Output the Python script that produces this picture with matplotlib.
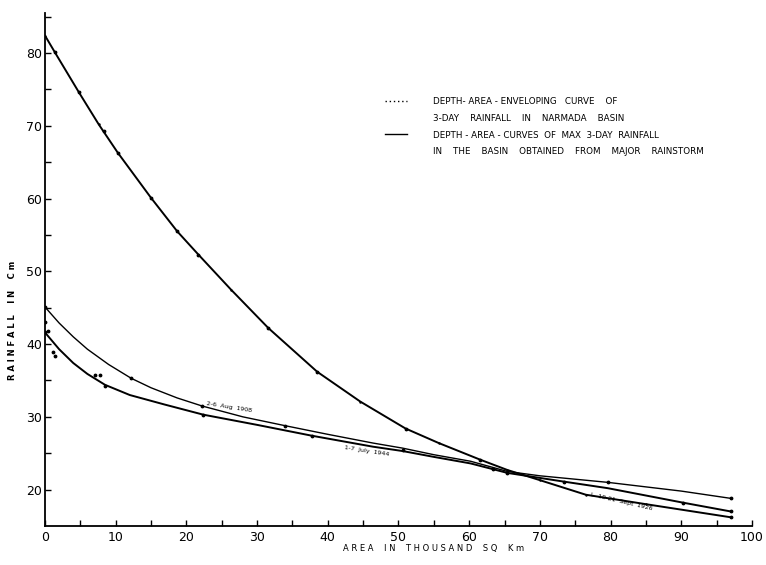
import matplotlib
matplotlib.use('Agg')
import matplotlib.pyplot as plt
from matplotlib.lines import Line2D

# curve readings (area in thousand sq km, rainfall in cm)
env_x = [0, 1.4, 4.8, 7.6, 10.3, 15.0, 18.7, 21.7, 26.3, 31.6, 38.5, 44.6, 51.0, 55.7, 61.6, 65.4, 70.0, 76.5, 85.0, 97.0]
env_y = [82.4, 80.1, 74.6, 70.2, 66.3, 60.1, 55.5, 52.3, 47.5, 42.2, 36.2, 32.1, 28.4, 26.4, 24.1, 22.7, 21.3, 19.3, 18.0, 16.2]

aug1908_x = [0, 2, 4, 6, 9, 12.2, 15, 18.7, 22.2, 28, 33.9, 40, 46.4, 50.6, 55, 60.2, 65.4, 70, 79.6, 90, 97]
aug1908_y = [45.1, 42.9, 41.0, 39.3, 37.2, 35.3, 34.0, 32.6, 31.5, 30.0, 28.8, 27.6, 26.4, 25.7, 24.8, 23.9, 22.5, 21.9, 21.0, 19.8, 18.8]

jul1944_x = [0, 2, 4, 6, 8.5, 12, 16.9, 22.4, 30, 37.8, 46.4, 50.6, 55, 60.2, 65.4, 73.4, 79.6, 90.3, 97]
jul1944_y = [41.6, 39.3, 37.4, 35.9, 34.4, 33.0, 31.7, 30.3, 28.9, 27.4, 25.9, 25.3, 24.5, 23.6, 22.3, 21.1, 20.2, 18.2, 17.0]

# plotted observation dots
env_dot_x = [1.4, 4.8, 8.3, 10.3, 15.0, 18.7, 21.7, 31.6, 38.5, 51.0, 61.6, 97.0]
env_dot_y = [80.1, 74.6, 69.3, 66.3, 60.1, 55.5, 52.3, 42.2, 36.2, 28.4, 24.1, 16.2]
storm_dot_x = [0, 12.2, 22.2, 33.9, 0, 8.5, 22.4, 37.8, 50.6, 63.4, 65.4, 73.4, 79.6, 90.3, 97, 97]
storm_dot_y = [45.1, 35.3, 31.5, 28.8, 41.6, 34.2, 30.3, 27.4, 25.4, 22.9, 22.3, 21.1, 21.0, 18.2, 17.0, 18.8]
extra_x = [0, 0.4, 1.1, 1.4, 7.1, 7.8]
extra_y = [43.0, 41.8, 38.9, 38.4, 35.8, 35.8]

fig = plt.figure(figsize=(7.66, 5.65), dpi=100)
ax = fig.add_axes([0.0587, 0.069, 0.923, 0.908])

ax.plot(env_x, env_y, color='black', lw=1.4)
ax.plot(env_x, env_y, color='black', lw=0, marker='.', ms=1.5)
ax.plot(aug1908_x, aug1908_y, color='black', lw=1.0)
ax.plot(jul1944_x, jul1944_y, color='black', lw=1.4)
ax.plot(env_dot_x, env_dot_y, 'k.', ms=3.5)
ax.plot(storm_dot_x, storm_dot_y, 'k.', ms=3.5)
ax.plot(extra_x, extra_y, 'k.', ms=3.5)

# storm labels along the curves
ax.text(26, 31.3, '2-6  Aug  1908', fontsize=4.5, rotation=-9, ha='center', va='center')
ax.text(45.5, 25.3, '1-7  July  1944', fontsize=4.5, rotation=-9, ha='center', va='center')
ax.text(81.5, 18.3, 'L  10-21  Sept  1926', fontsize=4.5, rotation=-13, ha='center', va='center')

ax.set_xlim(0, 100)
ax.set_ylim(15, 85.5)
ax.set_xticks(range(0, 101, 10))
ax.set_xticks(range(0, 101, 5), minor=True)
ax.set_yticks(range(20, 81, 10))
ax.set_yticks(range(20, 86, 5), minor=True)
ax.tick_params(which='both', direction='in', length=4, width=1, labelsize=9)
ax.tick_params(axis='y', pad=2)
ax.spines['top'].set_visible(False)
ax.spines['right'].set_visible(False)
ax.spines['left'].set_linewidth(1.3)
ax.spines['bottom'].set_linewidth(1.3)

ax.set_xlabel('A R E A    I N    T H O U S A N D    S Q    K m', fontsize=6)
ax.xaxis.set_label_coords(0.55, -0.035)
ax.set_ylabel('R A I N F A L L    I N    C m', fontsize=6, fontweight='bold')
ax.yaxis.set_label_coords(-0.04, 0.40)

handles = [Line2D([], [], color='black', ls=(0, (1, 2)), lw=1),
           Line2D([], [], lw=0),
           Line2D([], [], color='black', lw=1),
           Line2D([], [], lw=0)]
labels = ['DEPTH- AREA - ENVELOPING   CURVE    OF',
          '3-DAY    RAINFALL    IN    NARMADA    BASIN',
          'DEPTH - AREA - CURVES  OF  MAX  3-DAY  RAINFALL',
          'IN    THE    BASIN    OBTAINED    FROM    MAJOR    RAINSTORM']
leg = ax.legend(handles, labels, loc='upper left', bbox_to_anchor=(0.47, 0.852),
                frameon=False, fontsize=6.3, handlelength=2.5, handletextpad=3.0,
                labelspacing=0.9)

fig.savefig('out.png', dpi=100)
